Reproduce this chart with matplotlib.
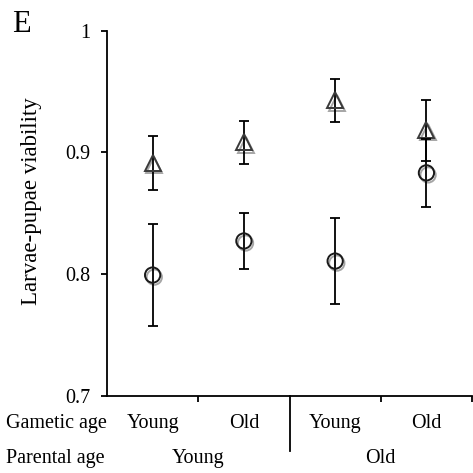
import matplotlib
import matplotlib.pyplot as plt
import matplotlib.patheffects as pe
import matplotlib.transforms as mtransforms

matplotlib.use("Agg")

# Groups: gametic age within parental age
gametic_age = ["Young", "Old", "Young", "Old"]
parental_age = ["Young", "Old"]

# Larvae-pupae viability, two series (triangles / circles) with error bars
triangle_mean = [0.891, 0.908, 0.9425, 0.918]
triangle_err = [0.022, 0.018, 0.0175, 0.025]
circle_mean = [0.799, 0.827, 0.8105, 0.883]
circle_err = [0.042, 0.023, 0.035, 0.028]

yticks = [0.7, 0.8, 0.9, 1.0]
ytick_labels = ["0.7", "0.8", "0.9", "1"]

plt.rcParams["font.family"] = ["Liberation Serif", "DejaVu Serif"]

fig = plt.figure(figsize=(4.73, 4.73), dpi=100)
ax = fig.add_axes([0.2262, 0.1638, 0.7718, 0.7717])

xpos = [i + 0.5 for i in range(len(gametic_age))]

shadow = [pe.SimpleLineShadow(offset=(1.2, -1.5), shadow_color="k", alpha=0.35), pe.Normal()]

for mean, err, marker, size, edge in [
    (triangle_mean, triangle_err, "^", 11.5, "#3a3a3a"),
    (circle_mean, circle_err, "o", 11.0, "#1a1a1a"),
]:
    ax.errorbar(xpos, mean, yerr=err, fmt="none", ecolor="black",
                elinewidth=1.3, capsize=3.6, capthick=1.3)
    ax.plot(xpos, mean, linestyle="none", marker=marker, markersize=size,
            markerfacecolor="none", markeredgecolor=edge, markeredgewidth=1.4,
            path_effects=shadow)

ax.set_xlim(0, 4)
ax.set_ylim(0.7, 1.0)
ax.set_yticks(yticks)
ax.set_yticklabels(ytick_labels)
ax.set_xticks([1, 3, 4])
ax.set_xticklabels([])

for side in ["top", "right"]:
    ax.spines[side].set_visible(False)
for side in ["left", "bottom"]:
    ax.spines[side].set_linewidth(1.3)

ax.tick_params(axis="both", direction="out", length=4, width=1.3, labelsize=14.5)
ax.tick_params(axis="y", pad=8)

# long separator between parental age groups
trans = mtransforms.blended_transform_factory(ax.transData, ax.transAxes)
ax.plot([2, 2], [0, -0.151], color="black", linewidth=1.3, transform=trans, clip_on=False)

for x, label in zip(xpos, gametic_age):
    ax.text(x, -0.077, label, transform=trans, ha="center", va="center", fontsize=14.5)
for x, label in zip([1, 3], parental_age):
    ax.text(x, -0.173, label, transform=trans, ha="center", va="center", fontsize=14.5)

fig.text(6 / 473, 1 - 423 / 473, "Gametic age", ha="left", va="center", fontsize=14.5)
fig.text(6 / 473, 1 - 458 / 473, "Parental age", ha="left", va="center", fontsize=14.5)

fig.text(32 / 473, 1 - 201 / 473, "Larvae-pupae viability", rotation=90,
         ha="center", va="center", fontsize=16.5)
fig.text(12 / 473, 1 - 24 / 473, "E", ha="left", va="center", fontsize=22)

fig.savefig("out.png", dpi=100)
